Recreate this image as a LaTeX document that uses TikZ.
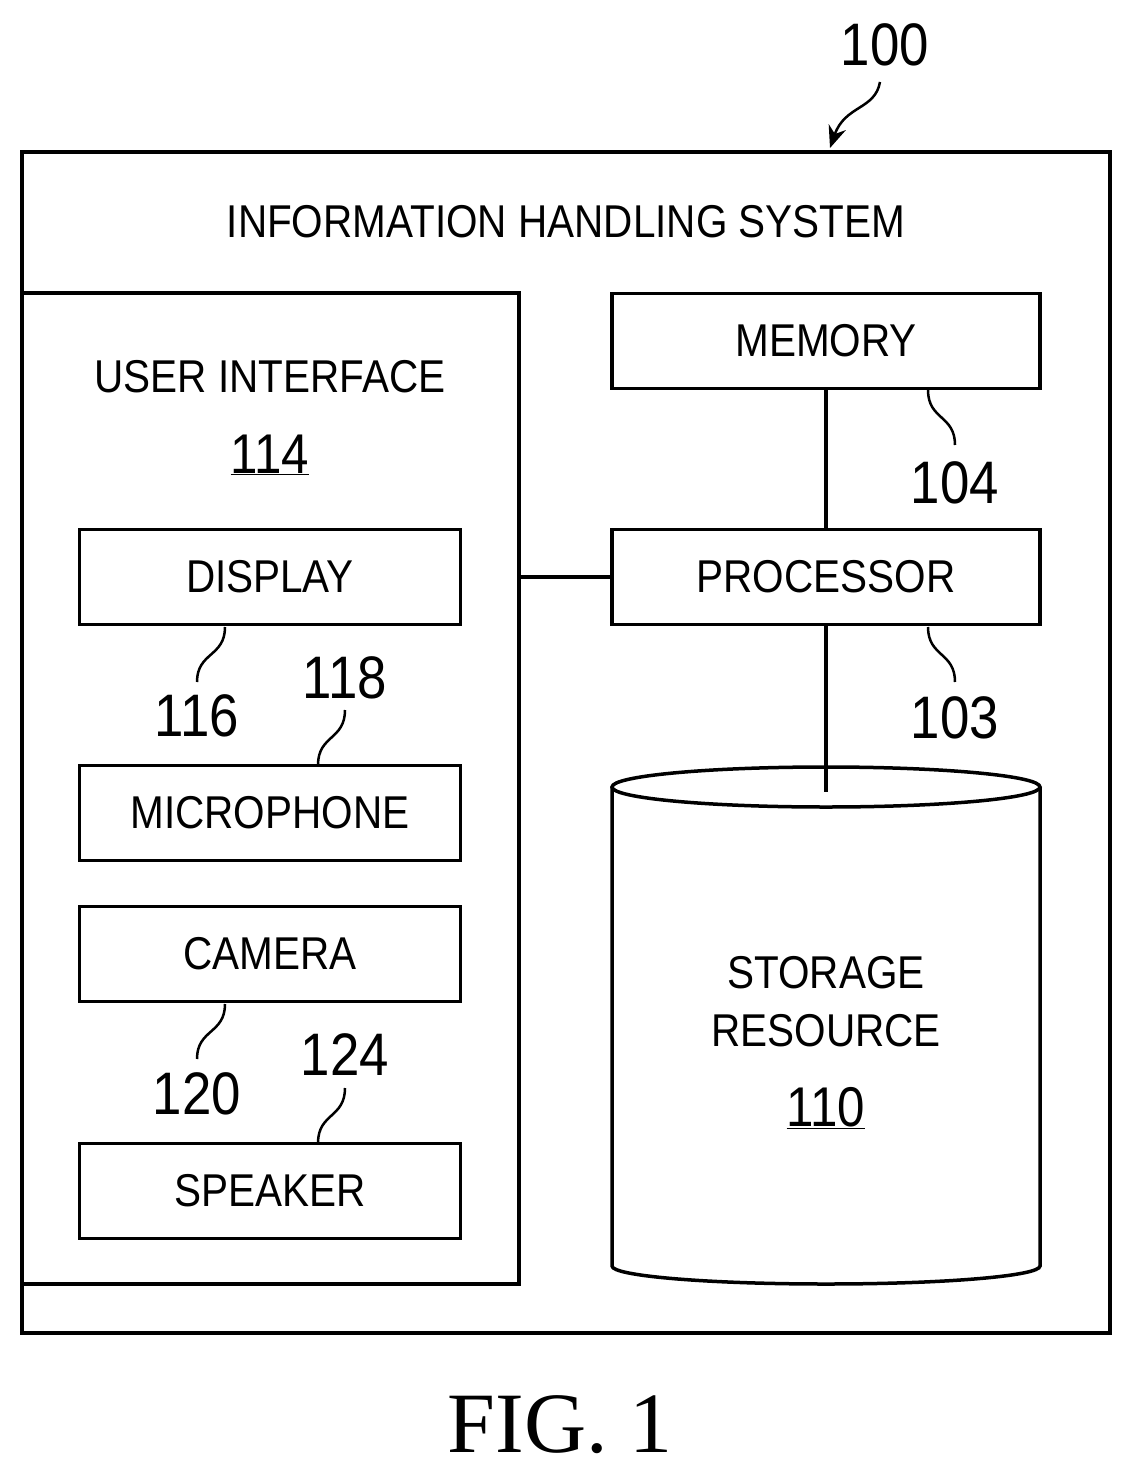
\documentclass[tikz,border=0pt]{standalone}
\usepackage{fontspec}
\setmainfont{Liberation Sans}[FakeStretch=0.88]
\newfontfamily\figfont{Liberation Serif}
\usetikzlibrary{arrows.meta}
\begin{document}
\begin{tikzpicture}[x=1pt,y=-1pt,line width=3.5pt,
 box/.style={draw,rectangle,inner sep=0pt},
 lbl/.style={font=\fontsize{46}{52}\selectfont,align=center},
 num/.style={font=\fontsize{60}{66}\selectfont},
 lead/.style={line width=2.5pt}]
\useasboundingbox (0,0) rectangle (1133,1472);
\draw (22,152) rectangle (1110,1333);
\node[lbl] (ihs) at (566,222) {INFORMATION HANDLING SYSTEM};
\draw (22,293) rectangle (519,1284);
\coordinate (uiR) at (519,577);
\node[lbl] (ui) at (270,377) {USER INTERFACE};
\node[num,font=\fontsize{56}{60}\selectfont] (n114) at (270,455) {\underline{114}};
\node[box,minimum width=428pt,minimum height=95pt,lbl] (mem) at (826,341) {MEMORY};
\node[box,minimum width=428pt,minimum height=95pt,lbl] (proc) at (826,577) {PROCESSOR};
\node[box,minimum width=381pt,minimum height=95pt,lbl] (disp) at (270,577) {DISPLAY};
\node[box,minimum width=381pt,minimum height=95pt,lbl] (mic) at (270,813) {MICROPHONE};
\node[box,minimum width=381pt,minimum height=95pt,lbl] (cam) at (270,954) {CAMERA};
\node[box,minimum width=381pt,minimum height=95pt,lbl] (spk) at (270,1191) {SPEAKER};
% cylinder
\draw (826,787) ellipse (214pt and 20pt);
\draw (612,787) -- (612,1266) arc[start angle=180,end angle=360,x radius=214pt,y radius=18pt] -- (1040,787);
\coordinate (cylTop) at (826,792);
\node[lbl] (st) at (826,1002) {STORAGE\\[6pt]RESOURCE};
\node[num,font=\fontsize{56}{60}\selectfont] (n110) at (826,1108) {\underline{110}};
\draw (mem) -- (proc);
\draw (proc) -- (cylTop);
\draw (uiR) -- (proc);
% numbers
\node[num] (n100) at (885,45) {100};
\node[num] (n104) at (955,483) {104};
\node[num] (n103) at (955,718) {103};
\node[num] (n116) at (197,716) {116};
\node[num] (n118) at (345,678) {118};
\node[num] (n120) at (197,1094) {120};
\node[num] (n124) at (345,1055) {124};
\draw[lead] (928,390) .. controls (928,420) and (955,415) .. (955,445);
\draw[lead] (928,627) .. controls (928,657) and (955,652) .. (955,682);
\draw[lead] (225,627) .. controls (225,657) and (197,652) .. (197,682);
\draw[lead] (225,1004) .. controls (225,1034) and (197,1029) .. (197,1059);
\draw[lead] (345,710) .. controls (345,740) and (318,735) .. (318,765);
\draw[lead] (345,1088) .. controls (345,1118) and (318,1113) .. (318,1143);
\draw[lead,-{Stealth[length=22pt,width=18pt]}] (880,82) .. controls (875,110) and (845,105) .. (830,148);
\node[font=\figfont\fontsize{86}{90}\selectfont] (fig) at (560,1425) {FIG. 1};
\end{tikzpicture}
\end{document}
